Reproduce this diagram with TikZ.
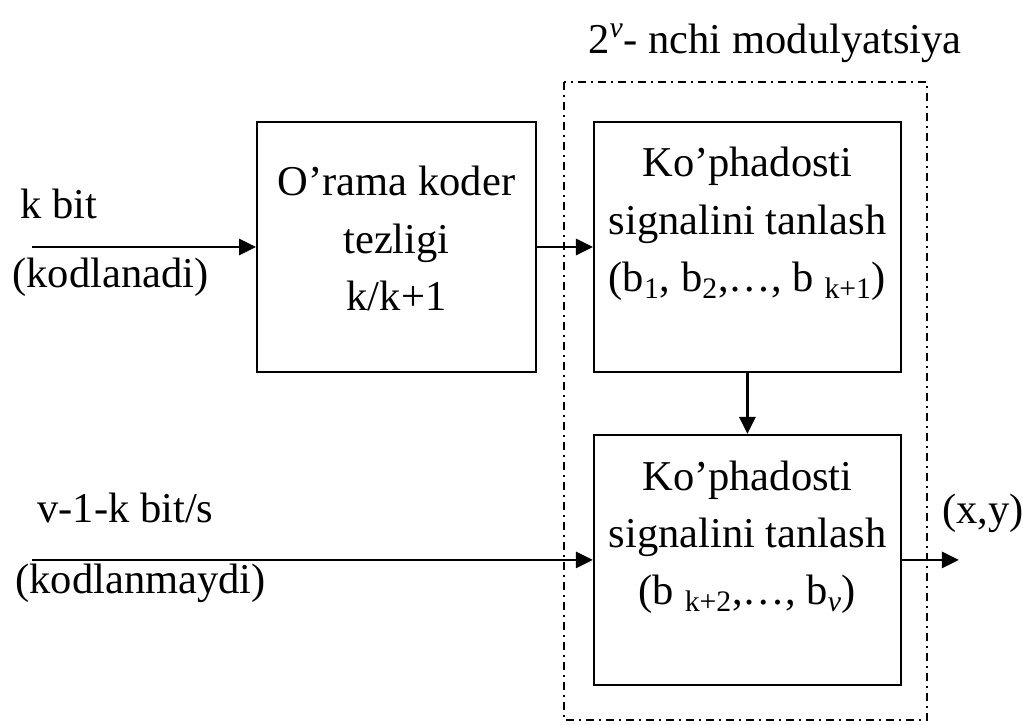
\documentclass[tikz,border=0pt]{standalone}
\usepackage{fontspec}
\setmainfont{Liberation Serif}
\usetikzlibrary{positioning,arrows.meta}

\begin{document}
\begin{tikzpicture}[
  node distance=1.12cm,
  box/.style={draw, line width=1.1pt, minimum width=6.14cm, minimum height=5cm},
  txt/.style={align=center, inner sep=0pt, font=\fontsize{24.2}{32.6}\selectfont},
  lbl/.style={inner sep=0pt, font=\fontsize{24.2}{32.6}\selectfont},
  arr/.style={-{Triangle[length=0.34cm, width=0.32cm]}, line width=1.6pt},
  frame/.style={line width=0.85pt, dash pattern=on 0.16cm off 0.1cm on 0.04cm off 0.1cm}
]
\useasboundingbox (0,0) rectangle (20.46,-14.48);

% ===== Coder and signal selection blocks =====
\node[box, minimum width=5.58cm] (coder) at (7.93,-4.94) {};
\node[box, right=of coder]       (sel1) {};
\node[box, below=1.22cm of sel1] (sel2) {};
\node[txt, yshift=0.17cm] (coder-t) at (coder) {O’rama koder\\ tezligi\\ k/k+1};
\node[txt, yshift=0.46cm] (sel1-t) at (sel1)
  {Ko’phadosti\\ signalini tanlash\\ (b\textsubscript{1}, b\textsubscript{2},…, b \textsubscript{k+1})};
\node[txt, yshift=0.45cm] (sel2-t) at (sel2)
  {Ko’phadosti\\ signalini tanlash\\ (b \textsubscript{k+2},…, b\textsubscript{\textit{v}})};

% ===== 2^v modulation frame =====
\draw[frame] (11.28,-1.64) rectangle (18.54,-14.40);
\node[lbl, anchor=base] (title) at (15.5,-1.06) {2\textsuperscript{\textit{v}}- nchi modulyatsiya};

% ===== Inputs and output =====
\coordinate (ink) at (0.64,-4.94);
\coordinate (inu) at (ink |- sel2);
\coordinate[right=1.14cm of sel2.east] (out);
\node[lbl, anchor=base west] (kbit)  at (0.4,-4.36)   {k bit};
\node[lbl, anchor=base west] (kcod)  at (0.24,-5.74)  {(kodlanadi)};
\node[lbl, anchor=base west] (ubit)  at (0.74,-10.44) {v-1-k bit/s};
\node[lbl, anchor=base west] (uncod) at (0.3,-11.86)  {(kodlanmaydi)};
\node[lbl, anchor=base west] (xy)    at (18.84,-10.46) {(x,y)};

\draw[arr] (ink) -- (coder.west);
\draw[arr] (coder.east) -- (sel1.west);
\draw[arr] (sel1) -- (sel2);
\draw[arr] (inu) -- (sel2.west);
\draw[arr] (sel2.east) -- (out);

\end{tikzpicture}
\end{document}
